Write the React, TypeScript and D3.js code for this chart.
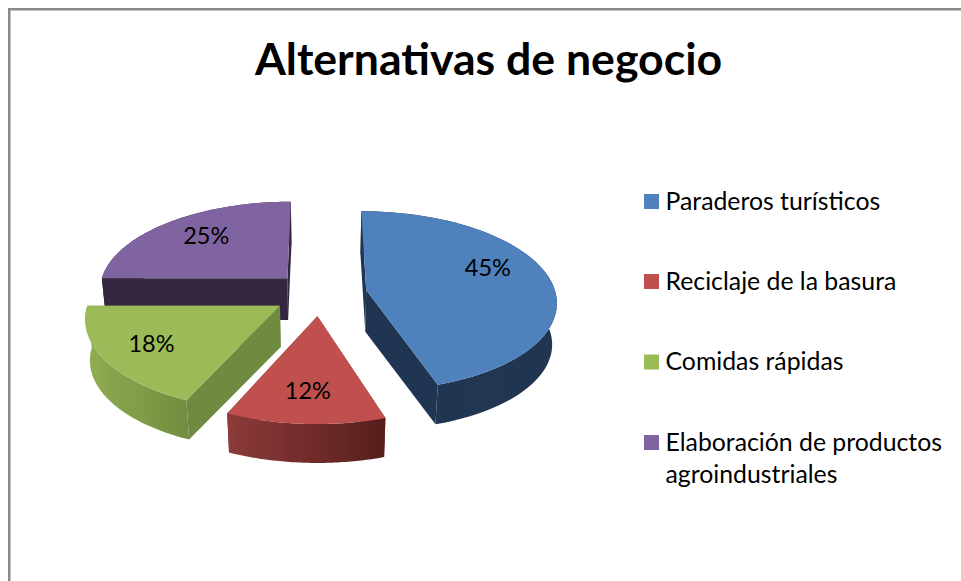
import React from "react";
import * as d3 from "d3";

const titleText = "Alternativas de negocio";
const categories = ["Paraderos turísticos", "Reciclaje de la basura", "Comidas rápidas", "Elaboración de productos agroindustriales"];
const legendLines = [["Paraderos turísticos"], ["Reciclaje de la basura"], ["Comidas rápidas"], ["Elaboración de productos", "agroindustriales"]];
const values = [45, 11.7, 18.3, 25];
const topColors = ["#4F81BD", "#C0504D", "#9BBB59", "#8064A2"];
const cutWallColors = ["#1F3552", "#5E2321", "#6F8B3F", "#362741"];
const wallFrom = ["#1F3552", "#8C3B39", "#8FAD50", "#362741"];
const wallTo = ["#203650", "#571E1C", "#728E40", "#362741"];

const W = 961, H = 581;
const cx = 320, cy = 293.5, R = 189.5, tilt = 0.47, persp = 0.00063, explode = 47, depth = 41.5, shrink = 0.98;
const labelShift = [-12, 0.4, 0.5, 3];
const labelRadius = [0.72, 0.72, 0.74, 0.71];

type P = [number, number];
const project = (px: number, py: number): P => {
  const w = 1 / (1 - persp * py);
  return [cx + px * w, cy + tilt * py * w];
};
const lower = ([x, y]: P): P => [cx + (x - cx) * shrink, cy + depth + (y - cy) * shrink];
const toD = (pts: P[]) => d3.line()(pts as any) + "Z";

export default function App() {
  const arcs = d3.pie<number>().sort(null).value(d => d)(values);
  const a2 = (a: number): P => [Math.sin(a), -Math.cos(a)];
  const slices = arcs.map((s, i) => {
    const mid = (s.startAngle + s.endAngle) / 2;
    const [ex, ey] = a2(mid);
    const ax = ex * explode, ay = ey * explode;
    const steps = d3.range(0, 61).map(k => s.startAngle + (s.endAngle - s.startAngle) * k / 60);
    const rim = steps.map(a => { const [u, v] = a2(a); return project(ax + R * u, ay + R * v); });
    const apex = project(ax, ay);
    const la = mid + labelShift[i] * Math.PI / 180;
    const [lu, lv] = a2(la);
    const label = project(ax + R * labelRadius[i] * lu, ay + R * labelRadius[i] * lv);
    return { i, rim, apex, label, mid };
  });
  const order = [3, 0, 2, 1];
  return (
    <svg width={W} height={H} style={{ position: "absolute", left: 0, top: 0, display: "block", background: "#fff" }}
      fontFamily="Lato, sans-serif">
      <defs>
        {slices.map(s => {
          const xs = d3.extent(s.rim, p => p[0]) as [number, number];
          return (
            <linearGradient key={s.i} id={`w${s.i}`} gradientUnits="userSpaceOnUse" x1={xs[0]} x2={xs[1]} y1={0} y2={0}>
              <stop offset="0" stopColor={wallFrom[s.i]} />
              <stop offset="1" stopColor={wallTo[s.i]} />
            </linearGradient>
          );
        })}
      </defs>
      <rect x={9.25} y={9.25} width={W + 20} height={H + 20} fill="#fff" stroke="#8A8A8A" strokeWidth={2.5} />
      <text x={488.5} y={75} textAnchor="middle" fontSize={44.6} fontWeight={700} fill="#000">{titleText}</text>
      {order.map(i => {
        const s = slices[i];
        const first = s.rim[0], last = s.rim[s.rim.length - 1];
        const outer = [...s.rim, ...s.rim.map(lower).reverse()];
        return (
          <g key={i} aria-label={categories[i]}>
            <path d={toD([s.apex, first, lower(first), lower(s.apex)])} fill={cutWallColors[i]} />
            <path d={toD([s.apex, last, lower(last), lower(s.apex)])} fill={cutWallColors[i]} />
            <path d={toD(outer)} fill={`url(#w${i})`} />
            <path d={toD([s.apex, ...s.rim])} fill={topColors[i]} />
          </g>
        );
      })}
      {slices.map(s => (
        <text key={s.i} x={s.label[0]} y={s.label[1]} dy="0.35em" textAnchor="middle" fontSize={23.5} fill="#000">
          {Math.round(values[s.i])}%
        </text>
      ))}
      {legendLines.map((lines, i) => {
        const ys = [201.5, 281.5, 362, 442.5];
        return (
          <g key={i}>
            <rect x={644} y={ys[i] - 7.5} width={15} height={15} fill={topColors[i]} />
            {lines.map((t, j) => (
              <text key={j} x={665.5} y={ys[i] - 0.5 + j * 32} dy="0.35em" fontSize={24.8} fill="#000">{t}</text>
            ))}
          </g>
        );
      })}
    </svg>
  );
}
